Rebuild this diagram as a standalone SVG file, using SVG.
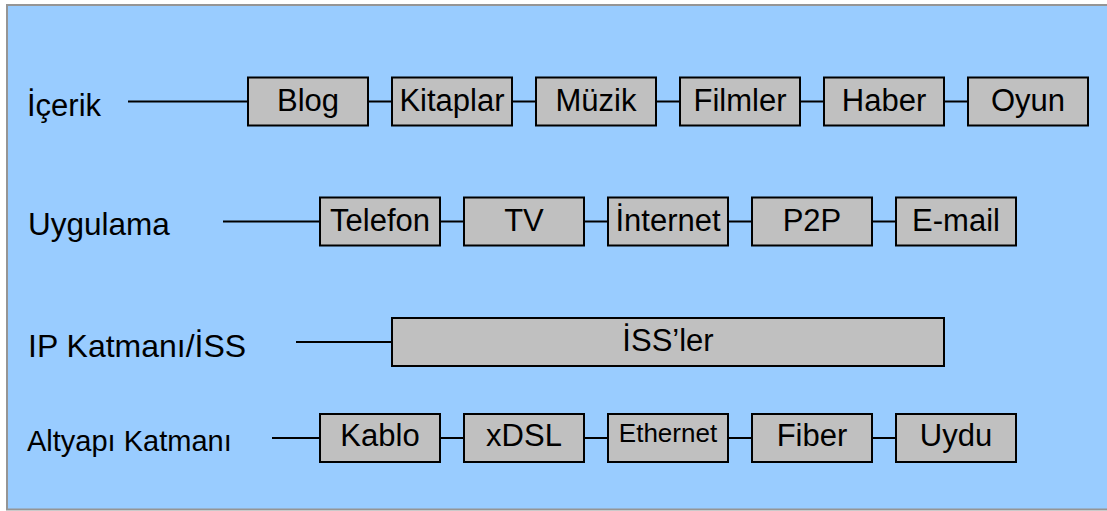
<svg xmlns="http://www.w3.org/2000/svg" width="1107" height="511" viewBox="0 0 1107 511">
<style>
.box{fill:#C0C0C0;stroke:#000;stroke-width:2}
.bt{font-family:"Liberation Sans",Arial,sans-serif;font-size:31px;fill:#000;text-anchor:middle}
.lbl{font-family:"Liberation Sans",Arial,sans-serif;fill:#000}
.con{stroke:#000;stroke-width:2;fill:none}
</style>
<rect x="0" y="0" width="1107" height="511" fill="#FFFFFF"/>
<rect id="background" x="7" y="5" width="1110" height="504.5" fill="#99CCFF" stroke="#959595" stroke-width="2"/>
<g id="labels">
<text class="lbl" x="27" y="116" font-size="31">İçerik</text>
<text class="lbl" x="28" y="235" font-size="31.5">Uygulama</text>
<text class="lbl" x="28" y="357" font-size="32">IP Katmanı/İSS</text>
<text class="lbl" x="27" y="451" font-size="29">Altyapı Katmanı</text>
</g>
<g id="connectors">
<line class="con" x1="128" y1="101.5" x2="248" y2="101.5"/>
<line class="con" x1="368" y1="101.5" x2="392" y2="101.5"/>
<line class="con" x1="512" y1="101.5" x2="536" y2="101.5"/>
<line class="con" x1="656" y1="101.5" x2="680" y2="101.5"/>
<line class="con" x1="800" y1="101.5" x2="824" y2="101.5"/>
<line class="con" x1="944" y1="101.5" x2="968" y2="101.5"/>
<line class="con" x1="223" y1="221.5" x2="320" y2="221.5"/>
<line class="con" x1="440" y1="221.5" x2="464" y2="221.5"/>
<line class="con" x1="584" y1="221.5" x2="608" y2="221.5"/>
<line class="con" x1="728" y1="221.5" x2="752" y2="221.5"/>
<line class="con" x1="872" y1="221.5" x2="896" y2="221.5"/>
<line class="con" x1="296" y1="342" x2="392" y2="342"/>
<line class="con" x1="272" y1="438" x2="320" y2="438"/>
<line class="con" x1="440" y1="438" x2="464" y2="438"/>
<line class="con" x1="584" y1="438" x2="608" y2="438"/>
<line class="con" x1="728" y1="438" x2="752" y2="438"/>
<line class="con" x1="872" y1="438" x2="896" y2="438"/>
</g>
<g id="blog"><rect class="box" x="248" y="77.5" width="120" height="48"/><text class="bt" x="308" y="111">Blog</text></g>
<g id="kitaplar"><rect class="box" x="392" y="77.5" width="120" height="48"/><text class="bt" x="452" y="111">Kitaplar</text></g>
<g id="muzik"><rect class="box" x="536" y="77.5" width="120" height="48"/><text class="bt" x="596" y="111">Müzik</text></g>
<g id="filmler"><rect class="box" x="680" y="77.5" width="120" height="48"/><text class="bt" x="740" y="111">Filmler</text></g>
<g id="haber"><rect class="box" x="824" y="77.5" width="120" height="48"/><text class="bt" x="884" y="111">Haber</text></g>
<g id="oyun"><rect class="box" x="968" y="77.5" width="120" height="48"/><text class="bt" x="1028" y="111">Oyun</text></g>
<g id="telefon"><rect class="box" x="320" y="197.5" width="120" height="48"/><text class="bt" x="380" y="231">Telefon</text></g>
<g id="tv"><rect class="box" x="464" y="197.5" width="120" height="48"/><text class="bt" x="524" y="231">TV</text></g>
<g id="internet"><rect class="box" x="608" y="197.5" width="120" height="48"/><text class="bt" x="668" y="231">İnternet</text></g>
<g id="p2p"><rect class="box" x="752" y="197.5" width="120" height="48"/><text class="bt" x="812" y="231">P2P</text></g>
<g id="email"><rect class="box" x="896" y="197.5" width="120" height="48"/><text class="bt" x="956" y="231">E-mail</text></g>
<g id="issler"><rect class="box" x="392" y="318" width="552" height="48"/><text class="bt" x="668" y="351">İSS’ler</text></g>
<g id="kablo"><rect class="box" x="320" y="414" width="120" height="48"/><text class="bt" x="380" y="446">Kablo</text></g>
<g id="xdsl"><rect class="box" x="464" y="414" width="120" height="48"/><text class="bt" x="524" y="446">xDSL</text></g>
<g id="ethernet"><rect class="box" x="608" y="414" width="120" height="48"/><text class="bt" x="668" y="442" style="font-size:26px">Ethernet</text></g>
<g id="fiber"><rect class="box" x="752" y="414" width="120" height="48"/><text class="bt" x="812" y="446">Fiber</text></g>
<g id="uydu"><rect class="box" x="896" y="414" width="120" height="48"/><text class="bt" x="956" y="446">Uydu</text></g>
</svg>
